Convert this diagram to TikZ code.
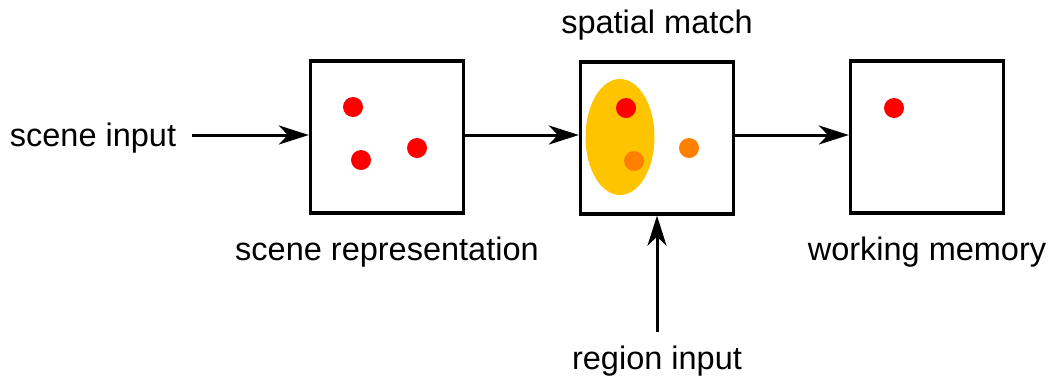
\documentclass[tikz,border=0pt]{standalone}
\usepackage{fontspec}
\setmainfont{Liberation Sans}
\usetikzlibrary{arrows.meta,shapes.geometric}
\definecolor{dotred}{HTML}{FF0000}
\definecolor{dotorange}{HTML}{FF8000}
\definecolor{ellyellow}{HTML}{FFC400}
\begin{document}
\begin{tikzpicture}[x=1pt,y=-1pt,
  box/.style={draw=black,line width=3.3pt,minimum width=153pt,minimum height=152pt,inner sep=0pt,fill=white},
  dotr/.style={circle,fill=dotred,minimum size=20pt,inner sep=0pt},
  doto/.style={circle,fill=dotorange,minimum size=20pt,inner sep=0pt},
  lbl/.style={font=\fontsize{32.5}{39}\selectfont,inner sep=0pt},
  conn/.style={line width=3pt,-{Stealth[length=30pt,width=19pt,inset=9pt]}}]
\useasboundingbox (0,0) rectangle (1049,376);
\node[box] (b1) at (387,137) {};
\node[box] (b2) at (657,138) {};
\node[box] (b3) at (927,137) {};
\node[ellipse,fill=ellyellow,minimum width=69pt,minimum height=116pt,inner sep=0pt] (ell) at (620,137) {};
\node[dotr] (d1) at (353,107) {};
\node[dotr] (d2) at (361,160) {};
\node[dotr] (d3) at (417,148) {};
\node[dotr] (d4) at (626,108) {};
\node[doto] (d5) at (634,161) {};
\node[doto] (d6) at (689,148) {};
\node[dotr] (d7) at (894,108) {};
\node[lbl] (sin) at (93,138) {scene input};
\node[lbl] (sm) at (657,25) {spatial match};
\node[lbl] (sr) at (387,252) {scene representation};
\node[lbl] (wm) at (927,252) {working memory};
\node[lbl] (ri) at (657,361) {region input};
\coordinate (sinend) at (192,135);
\coordinate (riend) at (657,332);
\draw[conn] (sinend) -- (b1.west |- sinend);
\draw[conn] (b1.east |- sinend) -- (b2.west |- sinend);
\draw[conn] (b2.east |- sinend) -- (b3.west |- sinend);
\draw[conn] (riend) -- (b2.south);
\end{tikzpicture}
\end{document}
